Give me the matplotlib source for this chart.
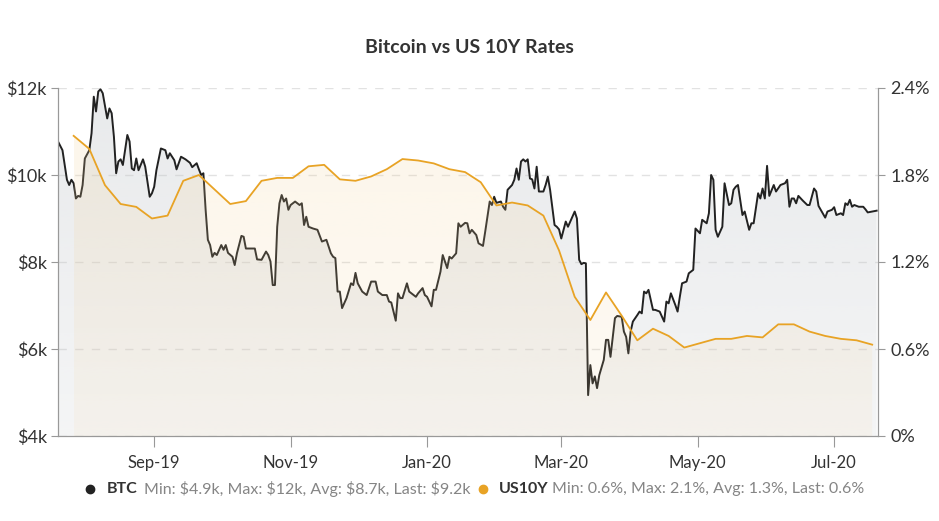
import numpy as np
import pandas as pd
import matplotlib
matplotlib.use("Agg")
import matplotlib.pyplot as plt
import matplotlib.dates as mdates
from matplotlib.colors import to_rgb
from matplotlib.lines import Line2D

plt.rcParams['font.family'] = ['Lato', 'DejaVu Sans']
plt.rcParams['text.parse_math'] = False

start = pd.Timestamp('2019-07-20')

# BTC daily-ish closes, $k (days since start)
btc_day = [0, 2, 4, 5, 6, 7, 8, 9, 10, 11,
           12, 14, 15, 16, 17, 18, 19, 20, 22, 23,
           24, 25, 26, 27, 28, 29, 31, 32, 33, 34,
           35, 36, 38, 39, 41, 42, 43, 44, 46, 48,
           49, 50, 52, 53, 55, 57, 59, 60, 62, 63,
           64, 65, 66, 67, 68, 69, 70, 71, 73, 74,
           75, 76, 78, 79, 80, 82, 83, 84, 86, 88,
           89, 91, 93, 94, 95, 96, 97, 98, 99, 100,
           101, 102, 103, 104, 106, 108, 109, 110, 111, 112,
           114, 116, 118, 120, 122, 123, 124, 125, 126, 127,
           129, 131, 132, 133, 134, 136, 138, 140, 142, 143,
           145, 147, 148, 149, 151, 152, 153, 154, 156, 157,
           160, 161, 163, 164, 165, 167, 168, 169, 171, 172,
           174, 175, 176, 178, 179, 180, 182, 183, 184, 185,
           187, 188, 190, 191, 193, 194, 195, 196, 198, 199,
           200, 201, 203, 204, 205, 206, 207, 208, 209, 210,
           211, 212, 213, 214, 215, 217, 218, 219, 220, 222,
           223, 224, 225, 227, 228, 230, 231, 232, 233, 234,
           235, 236, 237, 238, 239, 240, 241, 242, 244, 245,
           246, 247, 249, 250, 252, 253, 254, 255, 256, 257,
           259, 260, 261, 262, 263, 264, 266, 267, 269, 271,
           272, 273, 274, 276, 277, 278, 279, 281, 282, 283,
           284, 285, 287, 288, 290, 291, 292, 293, 294, 295,
           297, 298, 300, 301, 302, 303, 304, 306, 307, 309,
           310, 311, 313, 314, 315, 316, 317, 318, 320, 321,
           323, 325, 326, 327, 328, 329, 330, 331, 333, 335,
           336, 338, 339, 340, 341, 343, 344, 346, 347, 348,
           350, 351, 352, 353, 354, 355, 356, 358, 360, 361,
           362, 364, 366]
btc_k = [10.77, 10.57, 9.89, 9.77, 9.89, 9.81, 9.46, 9.52, 9.50, 9.77,
         10.38, 10.57, 10.96, 11.80, 11.46, 11.92, 11.97, 11.88, 11.30, 11.53,
         11.42, 10.88, 10.04, 10.31, 10.36, 10.23, 10.92, 10.77, 10.15, 10.11,
         10.38, 10.11, 10.36, 10.19, 9.50, 9.58, 9.73, 10.11, 10.61, 10.57,
         10.38, 10.50, 10.34, 10.13, 10.42, 10.36, 10.28, 10.18, 10.27, 10.13,
         10.00, 10.04, 9.20, 8.51, 8.39, 8.12, 8.21, 8.16, 8.39, 8.28,
         8.39, 8.21, 8.12, 7.93, 8.20, 8.60, 8.58, 8.31, 8.31, 8.31,
         8.06, 8.05, 8.24, 8.16, 8.01, 7.47, 7.47, 8.81, 9.35, 9.54,
         9.39, 9.46, 9.20, 9.31, 9.39, 9.31, 9.35, 8.85, 9.04, 8.81,
         8.77, 8.74, 8.47, 8.51, 8.20, 8.12, 8.09, 7.32, 7.32, 6.94,
         7.17, 7.51, 7.47, 7.75, 7.51, 7.32, 7.24, 7.55, 7.55, 7.32,
         7.24, 7.24, 7.09, 7.07, 6.65, 7.28, 7.17, 7.17, 7.51, 7.32,
         7.20, 7.28, 7.40, 7.24, 7.20, 6.98, 7.36, 7.36, 7.78, 8.16,
         7.86, 8.12, 8.08, 8.20, 8.89, 8.81, 8.90, 8.89, 8.66, 8.74,
         8.62, 8.43, 8.37, 8.70, 9.39, 9.31, 9.50, 9.36, 9.39, 9.27,
         9.20, 9.66, 9.77, 9.89, 10.15, 9.89, 10.31, 10.36, 10.31, 10.36,
         9.92, 9.90, 9.69, 10.19, 9.62, 9.62, 9.77, 9.96, 9.66, 8.85,
         8.81, 8.75, 8.54, 8.93, 8.81, 9.04, 9.16, 9.00, 8.05, 7.95,
         7.98, 7.97, 4.94, 5.63, 5.21, 5.37, 5.10, 5.40, 5.75, 6.21,
         6.21, 5.82, 6.71, 6.76, 6.74, 6.40, 6.28, 5.90, 6.40, 6.63,
         6.78, 6.86, 6.82, 7.32, 7.28, 7.36, 6.90, 6.90, 6.86, 6.63,
         7.09, 7.05, 7.28, 7.01, 6.86, 7.20, 7.51, 7.55, 7.74, 7.78,
         7.82, 8.77, 8.66, 8.97, 8.89, 9.12, 10.00, 9.89, 8.74, 8.58,
         8.81, 9.81, 9.31, 9.35, 9.66, 9.73, 9.77, 9.08, 9.16, 8.74,
         8.89, 8.89, 9.58, 9.46, 9.69, 9.46, 10.21, 9.52, 9.77, 9.62,
         9.77, 9.81, 9.89, 9.27, 9.46, 9.46, 9.35, 9.52, 9.41, 9.31,
         9.31, 9.69, 9.62, 9.29, 9.20, 9.02, 9.16, 9.20, 9.26, 9.08,
         9.12, 9.08, 9.35, 9.31, 9.43, 9.27, 9.31, 9.27, 9.27, 9.21,
         9.14, 9.16, 9.18]

# US 10Y yield, weekly, %
us_day = [7, 14, 21, 28, 35, 42, 49, 56, 63, 70,
          77, 84, 91, 98, 105, 112, 119, 126, 133, 140,
          147, 154, 161, 168, 175, 182, 189, 196, 203, 210,
          217, 224, 231, 238, 245, 252, 259, 266, 273, 280,
          287, 294, 301, 308, 315, 322, 329, 336, 343, 350,
          357, 364]
us_pct = [2.07, 1.98, 1.73, 1.60, 1.58, 1.50, 1.52, 1.76, 1.80, 1.70,
          1.60, 1.62, 1.76, 1.78, 1.78, 1.86, 1.87, 1.77, 1.76, 1.79,
          1.84, 1.91, 1.90, 1.88, 1.84, 1.82, 1.75, 1.59, 1.61, 1.59,
          1.52, 1.28, 0.96, 0.80, 0.99, 0.83, 0.66, 0.74, 0.69, 0.61,
          0.64, 0.67, 0.67, 0.69, 0.68, 0.77, 0.77, 0.72, 0.69, 0.67,
          0.66, 0.63]

left_ticks = [4, 6, 8, 10, 12]
left_labels = ['$4k', '$6k', '$8k', '$10k', '$12k']
right_ticks = [0, 0.6, 1.2, 1.8, 2.4]
right_labels = ['0%', '0.6%', '1.2%', '1.8%', '2.4%']
month_ticks = ['2019-09-01', '2019-11-01', '2020-01-01', '2020-03-01', '2020-05-01', '2020-07-01']

t0 = mdates.date2num(start)
x_btc = t0 + np.array(btc_day, dtype=float)
x_us = t0 + np.array(us_day, dtype=float)
y_btc = np.array(btc_k)
y_us = np.array(us_pct)


def grad_fill(a, x, y, y0, y1, color, a_top, a_bot, z):
    poly = a.fill_between(x, y, y0, facecolor='none', edgecolor='none', lw=0)
    img = np.zeros((256, 1, 4))
    img[..., :3] = to_rgb(color)
    img[..., 3] = np.linspace(a_bot, a_top, 256)[:, None]
    im = a.imshow(img, aspect='auto', origin='lower', interpolation='bilinear',
                  extent=[x[0], x[-1], y0, y1], zorder=z)
    im.set_clip_path(poly.get_paths()[0], transform=a.transData)


fig = plt.figure(figsize=(9.39, 5.21), dpi=100)
ax = fig.add_axes([58 / 939, 1 - 436 / 521, 820 / 939, 348 / 521])
ax2 = ax.twinx()

grad_fill(ax, x_btc, y_btc, 4, 12, '#c4c8cc', 0.38, 0.18, 1)
ax.plot(x_btc, y_btc, color='#222222', lw=1.4, zorder=3, solid_joinstyle='round')

grad_fill(ax2, x_us, y_us, 0, 2.4, '#f4d39a', 0.22, 0.10, 1)
ax2.plot(x_us, y_us, color='#e8a325', lw=1.3, zorder=3)

ax.set_xlim(t0, t0 + 366.6)
ax.set_ylim(4, 12)
ax2.set_ylim(0, 2.4)

ax.set_yticks(left_ticks)
ax.set_yticklabels(left_labels)
ax2.set_yticks(right_ticks)
ax2.set_yticklabels(right_labels)
ax.set_xticks([mdates.date2num(pd.Timestamp(m)) for m in month_ticks])
ax.xaxis.set_major_formatter(mdates.DateFormatter('%b-%y'))

for a in (ax, ax2):
    for s in a.spines.values():
        s.set_color('#999999')
    a.spines['top'].set_visible(False)
    a.patch.set_visible(False)

ax.grid(axis='y', color='#e2e2e2', lw=1, linestyle=(0, (6, 6)), zorder=0)
ax.set_axisbelow(True)

ax.tick_params(axis='y', colors='#999999', length=5, labelcolor='#333333', labelsize=13, pad=3)
ax.tick_params(axis='x', colors='#999999', length=8, labelcolor='#333333', labelsize=12, pad=6)
ax2.tick_params(axis='y', colors='#999999', length=5, labelcolor='#333333', labelsize=13, pad=4)

fig.text(0.5, 1 - 47 / 521, 'Bitcoin vs US 10Y Rates', ha='center', va='center',
         fontsize=14, fontweight='bold', color='#333333')

# legend
ly = 1 - 489 / 521
fig.add_artist(Line2D([90 / 939], [ly], marker='o', markersize=6, color='#222222',
                      transform=fig.transFigure))
fig.text(107 / 939, ly, 'BTC', ha='left', va='center', fontsize=11.5,
         fontweight='bold', color='#333333')
fig.text(144 / 939, ly, 'Min: $4.9k, Max: $12k, Avg: $8.7k, Last: $9.2k',
         ha='left', va='center', fontsize=11.5, color='#858585')
fig.add_artist(Line2D([483 / 939], [ly], marker='o', markersize=6, color='#e8a325',
                      transform=fig.transFigure))
fig.text(499 / 939, ly, 'US10Y', ha='left', va='center', fontsize=11.5,
         fontweight='bold', color='#333333')
fig.text(552 / 939, ly, 'Min: 0.6%, Max: 2.1%, Avg: 1.3%, Last: 0.6%',
         ha='left', va='center', fontsize=11.5, color='#858585')

fig.savefig('out.png', dpi=100, facecolor='white')
